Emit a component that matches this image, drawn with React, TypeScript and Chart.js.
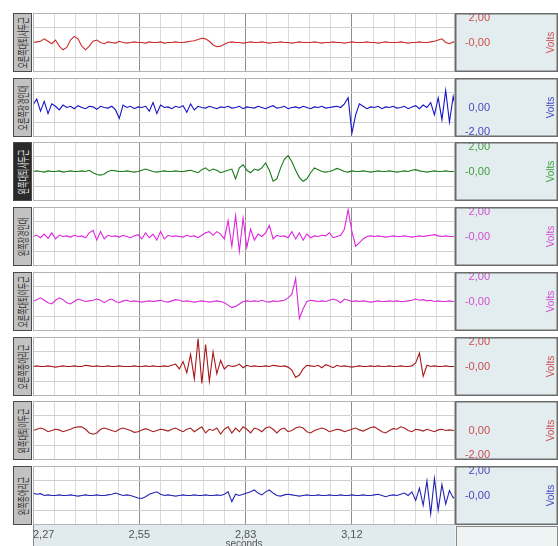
import React, { useEffect, useRef } from 'react';
import { Chart, registerables } from 'chart.js';

Chart.register(...registerables);

// ---------------- data ----------------
const MUSCLE_LABELS = [
  '오른쪽대퇴사두근',
  '오른쪽장경인대',
  '왼쪽대퇴사두근',
  '왼쪽장경인대',
  '오른쪽대퇴이두근',
  '오른쪽종아리근',
  '왼쪽대퇴이두근',
  '왼쪽종아리근',
];

const T_START = 2.2667; // seconds, first sample / left edge
const SAMPLE_DT = 0.01; // seconds between samples
const T_END = 3.3915; // right edge of the plot
const X_MAJOR_STEP = 0.28333;
const X_TICK_LABELS = ['2,27', '2,55', '2,83', '3,12'];
const X_AXIS_TITLE = 'seconds';
const Y_AXIS_TITLE = 'Volts';
const Y_MIN = -2.42;
const Y_MAX = 2.42;
const Y_GRID_VALUES = [-1.21, 1.21];

const Y_TICK_VALUES = [[2, 0], [0, -2], [2, 0], [2, 0], [2, 0], [2, 0], [0, -2], [2, 0]];
const Y_TICK_LABELS = [
  ['2,00', '-0,00'],
  ['0,00', '-2,00'],
  ['2,00', '-0,00'],
  ['2,00', '-0,00'],
  ['2,00', '-0,00'],
  ['2,00', '-0,00'],
  ['0,00', '-2,00'],
  ['2,00', '-0,00'],
];

const S1 = [
  0, 0.05, 0.1, 0.3, 0.1, -0.1, 0.2, -0.3, -0.6, -0.4,
  0.2, 0.5, 0.3, -0.3, -0.6, -0.3, 0.1, 0.2, 0, -0.1,
  0.05, 0, -0.05, 0.1, 0, -0.05, 0, 0.05, 0, 0,
  -0.05, 0.05, 0, 0, 0.05, -0.05, 0, 0, 0.05, 0,
  0, 0.05, 0.1, 0.15, 0.25, 0.35, 0.3, 0.1, -0.2, -0.35,
  -0.3, -0.15, 0, 0.05, 0, 0, -0.05, 0, 0.05, 0,
  0, 0.05, 0, -0.05, 0, 0, 0.05, 0, 0, -0.05,
  0, 0.05, 0, 0, 0, 0.05, 0, -0.05, 0, 0,
  0.05, 0, 0, -0.05, 0, 0.05, 0, 0, 0, 0.05,
  0, 0, -0.05, 0, 0.05, 0, 0, 0, 0.05, 0,
  -0.05, 0, 0, 0.05, 0, 0, 0.05, 0.1, 0.2, 0.3,
  0, -0.1, 0.05, 0,
];

const S2 = [
  0.2, 0.7, -0.3, 0.5, -0.5, 0.3, 0.1, -0.2, 0.2, 0,
  0.1, -0.1, 0.15, 0, -0.1, 0.1, 0.05, -0.15, 0.1, 0,
  -0.05, 0.1, -0.2, -0.9, 0.2, 0, 0.1, -0.1, 0.05, 0,
  0.1, -0.3, 0.4, -0.5, 0.2, 0, 0.05, -0.1, 0.1, 0,
  0.15, -0.4, 0.3, -0.2, 0.1, 0, -0.05, 0.1, 0, -0.1,
  0.05, 0, 0.1, -0.05, 0, 0.1, -0.1, 0.05, 0, -0.05,
  0.1, 0, -0.1, 0.05, 0.15, -0.05, 0, 0.1, -0.1, 0,
  0.05, -0.05, 0.1, 0, -0.1, 0.05, 0, 0.1, -0.05, 0,
  0.05, 0.1, 0, 0.3, 0.8, -2.1, -0.6, 0.3, 0.1, -0.1,
  0.05, 0, 0.1, -0.1, 0.05, 0, 0.1, -0.05, 0, 0.1,
  -0.1, 0.05, 0.15, -0.1, 0.2, 0, 0.4, -0.6, 0.8, -1.0,
  1.4, -1.2, 0.9, -0.5,
];

const S3 = [
  0, 0.05, 0, -0.05, 0.05, 0, 0, 0.05, -0.05, 0,
  0.05, 0, 0, 0.05, 0, 0.1, -0.1, -0.25, -0.3, -0.2,
  0, 0.1, 0.05, 0, 0, 0.05, 0, -0.05, 0, 0.1,
  0.2, 0.1, 0, -0.05, 0, 0.05, 0, 0, 0.05, 0,
  0, 0.05, 0.1, 0, -0.1, 0.15, 0.3, 0.05, 0.2, 0.1,
  -0.1, 0, 0.1, 0.2, -0.6, 0.3, 0.55, 0.1, -0.1, 0.2,
  0.1, 0.3, 0.7, 0.1, -0.8, -0.6, 0.3, 1.0, 1.3, 0.8,
  0.1, -0.5, -0.8, -0.6, -0.1, 0.3, 0.15, 0, -0.05, 0,
  0.1, 0.25, 0.15, 0, -0.05, 0.05, 0, 0, 0.05, 0,
  -0.05, 0, 0.05, 0, 0, 0.05, 0, -0.05, 0, 0.05,
  0, 0.1, 0.15, 0.05, 0, -0.05, 0, 0.05, 0, 0,
  0.05, 0, 0, 0,
];

const S4 = [
  0, 0.1, -0.1, 0.2, -0.15, 0.3, -0.2, 0.1, 0, 0.05,
  -0.05, 0.1, 0, 0.05, -0.1, 0.3, 0.5, -0.3, 0.4, -0.2,
  0.1, 0, 0.05, -0.05, 0.1, 0, -0.1, 0.05, 0.15, -0.2,
  0.3, -0.1, 0.2, -0.3, 0.4, -0.2, 0.1, 0, 0.05, 0,
  -0.05, 0.1, 0, 0.05, -0.1, 0.1, 0.3, 0.4, 0.1, 0.4,
  0.2, -0.2, 1.3, -0.8, 1.7, -1.2, 1.5, -0.9, 0.6, -0.3,
  0.2, 0, 0.3, 0.9, -0.2, 0.1, 0, 0.05, -0.1, 0.4,
  -0.2, 0.3, -0.3, 0.2, -0.1, 0.05, 0, 0.1, 0.05, 0.3,
  -0.1, 0, 0.1, 0.6, 2.2, 0.4, -0.8, -0.5, -0.2, 0,
  0.05, 0, 0.05, 0, -0.05, 0, 0.05, 0, 0, 0.05,
  0, -0.05, 0, 0.05, 0, 0.05, 0.1, 0.15, 0.05, 0,
  0.05, 0, 0, 0.05,
];

const S5 = [
  0, 0.15, 0.3, 0.1, -0.1, -0.2, 0.1, 0.3, 0.15, -0.1,
  -0.2, 0, 0.2, 0.1, 0, 0.05, 0.1, 0.2, 0.1, -0.1,
  0.1, 0.2, 0, -0.1, 0.05, 0.1, 0, 0.05, 0, -0.05,
  0, 0.05, 0, 0.05, 0.1, 0, -0.05, 0.05, 0.15, 0.1,
  0, 0.05, 0, -0.05, 0, 0.05, 0, -0.05, 0, 0.05,
  0, -0.1, -0.3, -0.5, -0.4, -0.2, 0, 0.05, 0, 0.05,
  0, 0.1, 0, -0.05, 0.05, 0, 0.05, 0.1, 0.3, 0.6,
  1.9, -1.4, -0.6, 0, 0.1, 0.05, 0, 0.05, 0, 0.1,
  0.2, 0.1, -0.1, 0.2, 0.1, 0, 0.05, 0, 0.05, 0,
  -0.05, 0, 0.05, 0, 0, 0.05, 0, 0.05, 0, 0,
  0.05, 0.1, 0.2, 0.1, 0.15, 0.05, 0.1, 0, 0.05, 0,
  0, 0.05, 0, 0,
];

const S6 = [
  0, 0.05, 0, 0, 0.05, 0, -0.05, 0, 0.05, 0,
  0, 0.05, 0, 0, 0.1, 0.05, 0, 0.05, 0, 0,
  0.05, 0, 0, 0.05, 0, 0, 0, 0.05, 0, 0,
  0.05, 0, 0.05, 0, 0, 0.05, 0, 0.1, 0.2, -0.2,
  0.4, -0.5, 1.0, -1.0, 2.3, -1.4, 1.8, -1.2, 1.2, -0.6,
  0.5, -0.2, 0.1, 0, 0.05, 0.2, -0.1, 0.1, 0, 0.05,
  0, 0, 0.05, 0, 0.1, 0.05, 0, 0.05, -0.05, -0.3,
  -0.9, -0.7, -0.2, 0.1, 0.05, 0, 0.1, -0.1, 0.15, 0.05,
  -0.1, 0.1, 0, 0.05, 0, -0.05, 0, 0.05, 0, 0,
  0.05, 0, 0.05, 0, 0, 0.05, 0, 0, 0.05, 0,
  0, 0.05, 0.3, 1.1, -0.8, 0.1, 0, 0.05, 0, 0,
  0.05, 0, 0, 0,
];

const S7 = [
  0, 0.1, 0.2, 0.1, -0.1, 0, 0.1, 0.05, -0.1, 0,
  0.1, 0.25, 0.3, 0.3, 0.1, -0.2, -0.3, -0.2, 0.1, 0.2,
  0.1, 0, -0.1, 0.1, 0.2, 0.1, 0, -0.15, -0.1, 0.05,
  0.15, 0.05, -0.1, 0, 0.1, 0.05, -0.05, 0.1, 0.2, 0.05,
  -0.1, 0.1, 0.2, -0.1, 0.1, 0.3, -0.2, 0.1, 0, 0.2,
  -0.3, 0.1, 0.3, -0.2, 0.2, -0.1, 0.3, 0.1, -0.2, 0.2,
  0.1, -0.1, 0.2, 0.3, 0.1, -0.2, 0.1, 0.2, -0.1, 0,
  0.2, 0.3, 0.2, -0.1, -0.2, 0, 0.1, 0.2, 0.1, -0.1,
  0, 0.1, 0.05, -0.1, 0, 0.1, 0.2, 0.05, -0.05, 0.1,
  0.25, 0.3, 0.1, -0.1, -0.2, 0, 0.15, 0.1, 0.3, 0.2,
  0, -0.1, 0.1, 0.05, -0.05, 0.1, 0, -0.1, 0.05, 0.1,
  0, 0.05, 0, 0.1,
];

const S8 = [
  0.2, 0.1, 0.15, 0, 0.05, 0, 0, 0.05, 0, 0,
  0.05, 0, -0.05, 0, 0.05, 0, 0, 0.05, 0, 0,
  0.05, 0.1, 0.2, 0.1, 0, 0.05, 0, -0.1, -0.2, -0.25,
  -0.1, 0.1, 0.2, 0.3, 0.1, 0, 0.05, 0, -0.05, 0,
  0.05, 0, 0, 0.05, 0, 0, 0.05, 0, 0, 0.05,
  0, 0.1, 0.3, -0.5, 0.1, 0, 0.1, 0.2, 0.3, 0.45,
  0.2, 0.05, 0.3, 0.45, 0.2, 0, -0.05, 0.05, 0.1, 0.05,
  0, -0.05, 0, 0.05, 0, 0, 0.05, 0, 0, 0.05,
  0, 0, 0.05, 0, 0, 0.05, 0, 0, 0.05, 0,
  0, 0.05, 0.1, 0, -0.1, 0, 0.05, 0, 0.1, 0.2,
  0, 0.3, -0.4, 0.6, -0.8, 1.2, -1.5, 1.4, -1.2, 0.9,
  -0.7, 0.4, -0.2, 0.1,
];

const SERIES = [S1, S2, S3, S4, S5, S6, S7, S8];

const LINE_COLORS = ['#cc2a2a', '#1414c8', '#1a7a1a', '#e024e0', '#d82ad8', '#a81818', '#a82020', '#2424b4'];
const TEXT_COLORS = ['#d05050', '#4848c0', '#40a040', '#d050d0', '#d050d0', '#c85050', '#c85050', '#4848c0'];

// ---------------- layout ----------------
const FONT = '"Liberation Sans", Arial, sans-serif';
const ROW_TOP0 = 13;
const ROW_PITCH = 64.7;
const ROW_H = 59;
const LABEL_LEFT = 13;
const LABEL_W = 19;
const PLOT_LEFT = 33;
const CANVAS_W = 525;
const PANEL_W = 103;
const AXIS_H = 21;
const PANEL_BG = '#e3ecee';
const AXIS_BG = '#e1ebee';

Chart.defaults.font.family = FONT;

function Row({ idx }: { idx: number }) {
  const ref = useRef<HTMLCanvasElement>(null);
  const isLast = idx === SERIES.length - 1;
  const top = Math.round(ROW_TOP0 + idx * ROW_PITCH);
  const height = ROW_H + (isLast ? AXIS_H : 0);

  useEffect(() => {
    const canvas = ref.current;
    if (!canvas) return;
    const minorStep = X_MAJOR_STEP / 5;
    const xGrid: number[] = [];
    for (let k = 0; T_START + k * minorStep <= T_END + 1e-9; k++) xGrid.push(T_START + k * minorStep);

    const panelPlugin = {
      id: 'emgPanel',
      beforeDraw(chart: any) {
        const { ctx, chartArea: a, width, height: h } = chart;
        ctx.save();
        ctx.fillStyle = '#ffffff';
        ctx.fillRect(a.left, a.top, a.right - a.left, a.bottom - a.top);
        ctx.fillStyle = PANEL_BG;
        ctx.fillRect(a.right, a.top, width - a.right, a.bottom - a.top);
        if (isLast) {
          ctx.fillStyle = AXIS_BG;
          ctx.fillRect(a.left, a.bottom, a.right - a.left, h - a.bottom);
          ctx.fillStyle = '#eef3f4';
          ctx.fillRect(a.right, a.bottom, width - a.right, h - a.bottom);
        }
        ctx.restore();
      },
      afterDraw(chart: any) {
        const { ctx, chartArea: a, width, height: h } = chart;
        ctx.save();
        ctx.strokeStyle = '#b4b4b4';
        ctx.lineWidth = 1;
        ctx.strokeRect(a.left + 0.5, a.top + 0.5, a.right - a.left - 1, a.bottom - a.top - 1);
        ctx.strokeStyle = '#6c6c6c';
        ctx.lineWidth = 1.5;
        ctx.strokeRect(a.right + 0.75, a.top + 0.75, width - a.right - 1.5, a.bottom - a.top - 1.5);
        if (isLast) {
          ctx.strokeStyle = '#8a8a8a';
          ctx.lineWidth = 1;
          ctx.beginPath();
          ctx.moveTo(a.left + 0.5, a.bottom);
          ctx.lineTo(a.left + 0.5, h);
          ctx.stroke();
          ctx.strokeRect(a.right + 1.5, a.bottom + 1.5, width - a.right - 2, h - a.bottom);
        }
        ctx.fillStyle = TEXT_COLORS[idx];
        ctx.font = '10px ' + FONT;
        ctx.textAlign = 'center';
        ctx.textBaseline = 'middle';
        ctx.translate(width - 7, (a.top + a.bottom) / 2);
        ctx.rotate(-Math.PI / 2);
        ctx.fillText(Y_AXIS_TITLE, 0, 0);
        ctx.restore();
      },
    };

    const chart = new Chart(canvas, {
      type: 'line',
      data: {
        datasets: [
          {
            data: SERIES[idx].map((v, j) => ({ x: T_START + j * SAMPLE_DT, y: v })),
            borderColor: LINE_COLORS[idx],
            borderWidth: 1.1,
            pointRadius: 0,
            tension: 0,
            fill: false,
            yAxisID: 'y',
            xAxisID: 'x',
          },
        ],
      },
      options: {
        animation: false,
        responsive: false,
        devicePixelRatio: 1,
        events: [],
        layout: { padding: 0, autoPadding: false },
        plugins: { legend: { display: false }, tooltip: { enabled: false }, title: { display: false } },
        scales: {
          x: {
            type: 'linear',
            min: T_START,
            max: T_END,
            display: true,
            afterBuildTicks: (s: any) => {
              s.ticks = xGrid.map((v) => ({ value: v }));
            },
            ticks: {
              display: isLast,
              autoSkip: false,
              maxRotation: 0,
              minRotation: 0,
              align: 'inner',
              padding: 3,
              color: '#555555',
              font: { size: 11, family: FONT },
              callback: (_v: any, k: number) => (k % 5 === 0 && X_TICK_LABELS[k / 5] ? X_TICK_LABELS[k / 5] : ''),
            },
            grid: {
              drawTicks: false,
              lineWidth: 1,
              color: (c: any) => (c.index % 5 === 0 ? '#8e8e8e' : '#dadada'),
            },
            border: { display: false },
            title: {
              display: isLast,
              text: X_AXIS_TITLE,
              color: '#555555',
              font: { size: 10, family: FONT },
              padding: { top: 0, bottom: -4 },
            },
            afterFit: (s: any) => {
              s.height = isLast ? AXIS_H : 0;
              s.paddingLeft = 0;
              s.paddingRight = 0;
            },
          },
          y: {
            type: 'linear',
            position: 'left',
            min: Y_MIN,
            max: Y_MAX,
            display: true,
            afterBuildTicks: (s: any) => {
              s.ticks = Y_GRID_VALUES.map((v) => ({ value: v }));
            },
            ticks: { display: false },
            grid: { drawTicks: false, color: '#d0d0d0', lineWidth: 1 },
            border: { display: false },
            afterFit: (s: any) => {
              s.width = 0;
              s.paddingTop = 0;
              s.paddingBottom = 0;
            },
          },
          yr: {
            type: 'linear',
            position: 'right',
            min: Y_MIN,
            max: Y_MAX,
            display: true,
            afterBuildTicks: (s: any) => {
              s.ticks = Y_TICK_VALUES[idx].map((v) => ({ value: v }));
            },
            ticks: {
              mirror: true,
              crossAlign: 'near',
              padding: 35,
              color: TEXT_COLORS[idx],
              font: { size: 11, family: FONT },
              callback: (_v: any, k: number) => Y_TICK_LABELS[idx][k],
            },
            grid: { display: false, drawTicks: false },
            border: { display: false },
            afterFit: (s: any) => {
              s.width = PANEL_W;
              s.paddingTop = 0;
              s.paddingBottom = 0;
            },
          },
        },
      } as any,
      plugins: [panelPlugin],
    });
    return () => chart.destroy();
  }, []);

  const dark = idx === 2;
  return (
    <>
      <div
        style={{
          position: 'absolute',
          left: LABEL_LEFT,
          top,
          width: LABEL_W,
          height: ROW_H,
          boxSizing: 'border-box',
          border: '1.5px solid #4a4a4a',
          background: dark ? '#2a2a2a' : '#c2c2c2',
          overflow: 'hidden',
        }}
      >
        <div
          style={{
            position: 'absolute',
            left: '50%',
            top: '50%',
            width: 120,
            height: 14,
            marginLeft: -60,
            marginTop: -7,
            lineHeight: '14px',
            textAlign: 'center',
            fontSize: 12,
            fontFamily: '"Noto Sans CJK KR", sans-serif',
            color: dark ? '#e0e0e0' : '#333333',
            whiteSpace: 'nowrap',
            transform: 'rotate(-90deg) scaleX(0.58)',
          }}
        >
          {MUSCLE_LABELS[idx]}
        </div>
      </div>
      <canvas
        ref={ref}
        width={CANVAS_W}
        height={height}
        style={{ position: 'absolute', left: PLOT_LEFT, top, width: CANVAS_W, height }}
      />
    </>
  );
}

export default function App() {
  return (
    <div
      style={{
        position: 'absolute',
        left: 0,
        top: 0,
        width: 558,
        height: 546,
        background: '#ffffff',
        overflow: 'hidden',
      }}
    >
      {SERIES.map((_, i) => (
        <Row key={i} idx={i} />
      ))}
    </div>
  );
}
